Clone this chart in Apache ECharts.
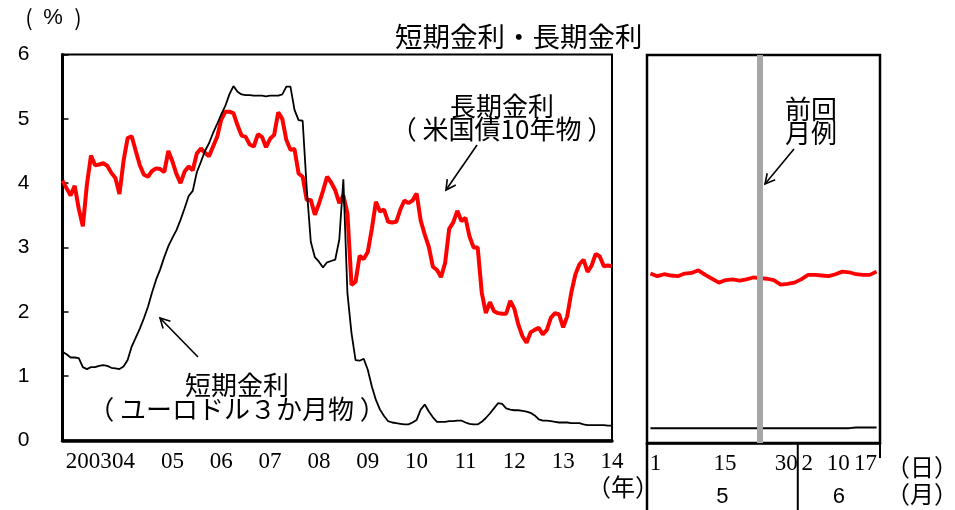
<!DOCTYPE html>
<html><head><meta charset="utf-8">
<script src="https://cdn.jsdelivr.net/npm/echarts@6/dist/echarts.min.js"></script>
<style>html,body{margin:0;padding:0;background:#fff}#c{width:955px;height:510px}</style>
</head><body><div id="c"></div>
<script>
// ---- data (monthly, Jan 2003 - Apr 2014) ----
const yearLabels = ['2003','04','05','06','07','08','09','10','11','12','13','14'];
const longRate = [
 4.04,3.92,3.81,3.96,3.60,3.33,3.98,4.43,4.28,4.29,4.31,4.27,
 4.16,4.08,3.83,4.35,4.70,4.73,4.50,4.28,4.13,4.10,4.19,4.23,
 4.22,4.17,4.50,4.34,4.14,4.00,4.18,4.26,4.20,4.46,4.54,4.47,
 4.42,4.57,4.72,4.99,5.11,5.11,5.09,4.90,4.74,4.72,4.60,4.57,
 4.76,4.72,4.56,4.69,4.75,5.10,5.00,4.67,4.52,4.53,4.15,4.10,
 3.74,3.74,3.51,3.68,3.88,4.10,4.01,3.89,3.69,3.81,3.53,2.42,
 2.47,2.87,2.82,2.93,3.29,3.71,3.56,3.59,3.40,3.39,3.40,3.59,
 3.73,3.69,3.73,3.84,3.42,3.20,3.01,2.70,2.65,2.54,2.76,3.29,
 3.39,3.57,3.41,3.46,3.17,3.00,3.00,2.30,1.98,2.15,2.01,1.98,
 1.97,1.97,2.17,2.05,1.80,1.62,1.52,1.68,1.72,1.75,1.65,1.72,
 1.91,1.98,1.96,1.76,1.93,2.30,2.58,2.74,2.81,2.62,2.72,2.90,
 2.86,2.71,2.72,2.71
];
const shortRate = [
 1.38,1.34,1.29,1.29,1.28,1.14,1.11,1.14,1.14,1.16,1.17,1.16,
 1.13,1.12,1.11,1.15,1.25,1.46,1.60,1.74,1.90,2.08,2.30,2.50,
 2.66,2.85,3.02,3.15,3.27,3.43,3.61,3.80,3.88,4.17,4.33,4.50,
 4.62,4.78,4.92,5.07,5.20,5.38,5.51,5.42,5.38,5.37,5.37,5.36,
 5.36,5.36,5.35,5.36,5.36,5.36,5.38,5.50,5.50,5.14,4.98,4.97,
 3.92,3.09,2.85,2.78,2.69,2.77,2.79,2.81,3.12,4.06,2.29,1.67,
 1.25,1.24,1.27,1.10,0.84,0.63,0.48,0.38,0.30,0.28,0.27,0.26,
 0.25,0.25,0.28,0.32,0.48,0.56,0.45,0.36,0.29,0.29,0.29,0.30,
 0.30,0.31,0.31,0.28,0.26,0.25,0.25,0.29,0.35,0.42,0.50,0.58,
 0.57,0.50,0.48,0.47,0.47,0.46,0.45,0.43,0.39,0.33,0.31,0.31,
 0.30,0.29,0.28,0.28,0.28,0.27,0.27,0.27,0.25,0.24,0.24,0.24,
 0.24,0.24,0.23,0.23
];
// ---- data (daily business days, May 1 - Jun 17 2014) ----
const dayLabels = ['1','2','5','6','7','8','9','12','13','14','15','16','19','20','21','22','23','26','27','28','29','30',
                   '2','3','4','5','6','9','10','11','12','13','16','17'];
const monthLabels = ['5','6'];
const monthDayCounts = [22,12];
const longRateDaily = [2.62,2.58,2.61,2.59,2.58,2.62,2.63,2.67,2.60,2.54,2.48,2.52,2.53,2.51,2.53,2.56,2.55,2.54,2.52,2.45,2.46,2.48,
                       2.53,2.60,2.60,2.59,2.58,2.61,2.65,2.64,2.61,2.60,2.60,2.65];
const shortRateDaily = [0.23,0.23,0.23,0.23,0.23,0.23,0.23,0.23,0.23,0.23,0.23,0.23,0.23,0.23,0.23,0.23,0.23,0.23,0.23,0.23,0.23,0.23,
                        0.23,0.23,0.23,0.23,0.23,0.23,0.23,0.23,0.24,0.24,0.24,0.24];
const prevReportIndex = 16;
const shownDayIdx = [0,10,21,22,28,33];

// ---- styles ----
const CJK = '"Noto Sans CJK JP"';
const SANS = '"Liberation Sans", Arial, sans-serif';
const SERIF = '"Liberation Serif", "Times New Roman", serif';
const dayPad = {0:[0,0,0,10],10:[0,0,0,12],21:[0,16,0,0],22:[0,0,0,12],28:[0,8,0,0],33:[0,22,0,0]};

const chart = echarts.init(document.getElementById('c'), null, {renderer:'canvas'});

const yearPos = yearLabels.map((_, k) => 3 + 12 * k);
const richDays = {};
shownDayIdx.forEach(i => { richDays['d' + i] = {fontFamily: SERIF, fontSize: 23, color: '#000', padding: dayPad[i]}; });

const option = {
  animation: false,
  backgroundColor: '#fff',
  title: {
    text: '短期金利・長期金利', left: 390, top: 18,
    textStyle: {fontFamily: CJK, fontSize: 27.5, fontWeight: 'normal', color: '#000'}
  },
  grid: [
    {left: 62.5, top: 54.5, width: 549.5, height: 386, show: true, borderColor: '#000', borderWidth: 2},
    {left: 647, top: 55, width: 233, height: 388, show: true, borderColor: '#000', borderWidth: 2.5}
  ],
  xAxis: [
    {type: 'value', gridIndex: 0, min: 0, max: 135,
     axisLine: {show: true, onZero: false, lineStyle: {color: '#000', width: 3.5}},
     axisTick: {show: false}, splitLine: {show: false},
     axisLabel: {
       customValues: yearPos, margin: 10,
       formatter: v => { const k = Math.round((v - 3) / 12); return k === 0 ? '{f|' + yearLabels[k] + '}' : '{n|' + yearLabels[k] + '}'; },
       rich: {
         f: {fontFamily: SERIF, fontSize: 23, color: '#000', padding: [0,0,0,28]},
         n: {fontFamily: SERIF, fontSize: 23, color: '#000'}
       }
     }},
    {type: 'category', gridIndex: 1, data: dayLabels, boundaryGap: true,
     axisLine: {show: true, lineStyle: {color: '#000', width: 2.5}},
     axisTick: {show: false},
     axisLabel: {
       interval: (i) => shownDayIdx.indexOf(i) >= 0, margin: 9,
       formatter: (v, i) => '{d' + i + '|' + v + '}',
       rich: richDays
     }}
  ],
  yAxis: [
    {type: 'value', gridIndex: 0, min: 0, max: 6, interval: 1,
     axisLine: {show: true, lineStyle: {color: '#000', width: 3}},
     axisTick: {show: true, inside: true, length: 6, lineStyle: {color: '#000', width: 1.5}},
     splitLine: {show: false},
     axisLabel: {margin: 33, fontFamily: SANS, fontSize: 21, color: '#000'}},
    {type: 'value', gridIndex: 1, min: 0, max: 6, interval: 1, show: false}
  ],
  series: [
    {name: '長期金利', type: 'line', xAxisIndex: 0, yAxisIndex: 0, z: 3,
     data: longRate.map((v, i) => [i, v]), showSymbol: false, symbol: 'none',
     lineStyle: {color: '#ff0000', width: 4}},
    {name: '短期金利', type: 'line', xAxisIndex: 0, yAxisIndex: 0, z: 4,
     data: shortRate.map((v, i) => [i, v]), showSymbol: false, symbol: 'none',
     lineStyle: {color: '#000', width: 1.8}},
    {name: '前回月例', type: 'line', xAxisIndex: 1, yAxisIndex: 1, z: 1, data: [],
     markLine: {silent: true, symbol: 'none', label: {show: false},
       lineStyle: {color: '#a6a6a6', width: 6, type: 'solid'},
       data: [{xAxis: prevReportIndex}]}},
    {name: '長期金利(日次)', type: 'line', xAxisIndex: 1, yAxisIndex: 1, z: 3,
     data: longRateDaily, showSymbol: false, symbol: 'none',
     lineStyle: {color: '#ff0000', width: 3.8}},
    {name: '短期金利(日次)', type: 'line', xAxisIndex: 1, yAxisIndex: 1, z: 3,
     data: shortRateDaily, showSymbol: false, symbol: 'none',
     lineStyle: {color: '#000', width: 2}}
  ]
};
chart.setOption(option);

// month group labels / separators computed from the right axis
const slotW = 233 / dayLabels.length;
const gx = 647;
let acc = 0;
const monthGraphics = [];
monthLabels.forEach((m, k) => {
  const start = gx + acc * slotW;
  const end = gx + (acc + monthDayCounts[k]) * slotW;
  monthGraphics.push({type: 'text', style: {text: m, x: (start + end) / 2, y: 497, fill: '#000',
    font: '22px ' + SANS, textAlign: 'center', textVerticalAlign: 'middle'}});
  acc += monthDayCounts[k];
});

function arrow(x1, y1, x2, y2) {
  const dx = x2 - x1, dy = y2 - y1, L = Math.hypot(dx, dy);
  const ux = -dx / L, uy = -dy / L, c = Math.cos(0.49), s = Math.sin(0.49), h = 11;
  const a = [x2 + h * (ux * c - uy * s), y2 + h * (ux * s + uy * c)];
  const b = [x2 + h * (ux * c + uy * s), y2 + h * (-ux * s + uy * c)];
  return [
    {type: 'line', shape: {x1, y1, x2, y2}, style: {stroke: '#000', lineWidth: 1.6}},
    {type: 'polyline', shape: {points: [a, [x2, y2], b]}, style: {stroke: '#000', lineWidth: 1.6, fill: null}}
  ];
}
function txt(text, x, y, size, align, fam) {
  return {type: 'text', z: 10, style: {text, x, y, fill: '#000', font: size + 'px ' + (fam || CJK),
    textAlign: align || 'center', textVerticalAlign: 'middle'}};
}

chart.setOption({graphic: [
  txt('(', 29, 18, 22),
  txt('%', 53, 18, 22, 'center', SANS),
  txt(')', 78, 18, 22),
  txt('長期金利', 502, 106, 26),
  txt('（ 米国債10年物 ）', 502, 129, 26),
  ...arrow(477, 145, 446, 190),
  txt('短期金利', 237, 385, 26),
  txt('（ ユーロドル３か月物 ）', 237, 409, 26),
  ...arrow(198, 357, 160, 318),
  txt('前回', 811, 109, 26),
  txt('月例', 811, 133, 26),
  ...arrow(794, 149, 765, 184),
  txt('（年）', 623, 487, 24),
  txt('（日）', 922, 467, 24),
  txt('（月）', 922, 494, 24),
  {type: 'line', shape: {x1: 647, y1: 443, x2: 647, y2: 510}, style: {stroke: '#000', lineWidth: 2.5}},
  {type: 'line', shape: {x1: gx + monthDayCounts[0] * slotW, y1: 443, x2: gx + monthDayCounts[0] * slotW, y2: 510}, style: {stroke: '#000', lineWidth: 2}},
  {type: 'line', shape: {x1: 880, y1: 443, x2: 880, y2: 458}, style: {stroke: '#000', lineWidth: 2}},
  ...monthGraphics
]});
</script></body></html>
